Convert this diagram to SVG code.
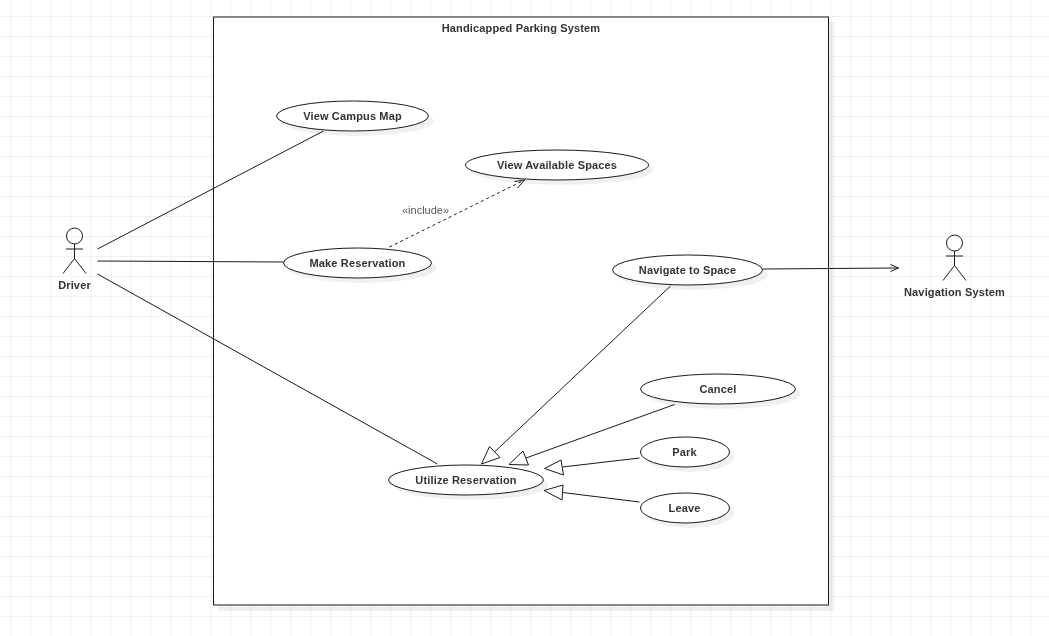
<svg xmlns="http://www.w3.org/2000/svg" width="1049" height="636" viewBox="0 0 1049 636" style="will-change:transform">
<style>
text{font-family:"Liberation Sans",Arial,sans-serif;font-size:11px;font-weight:bold;fill:#333;text-anchor:middle;letter-spacing:.15px}
.uc{fill:#fff;stroke:#1a1a1a;stroke-width:1}
.sh{fill:#000;opacity:.06}
.ln{fill:none;stroke:#1a1a1a;stroke-width:1}
.tri{fill:#fff;stroke:#1a1a1a;stroke-width:1}
.act{fill:none;stroke:#1a1a1a;stroke-width:1}
</style>
<g id="diagram" transform="translate(-.5 0)">
<g id="grid" fill="none" stroke="#f0f0f0" stroke-width="1">
<path d="M11.5 0V636M31.5 0V636M51.5 0V636M71.5 0V636M91.5 0V636M111.5 0V636M131.5 0V636M151.5 0V636M171.5 0V636M191.5 0V636M211.5 0V636M231.5 0V636M251.5 0V636M271.5 0V636M291.5 0V636M311.5 0V636M331.5 0V636M351.5 0V636M371.5 0V636M391.5 0V636M411.5 0V636M431.5 0V636M451.5 0V636M471.5 0V636M491.5 0V636M511.5 0V636M531.5 0V636M551.5 0V636M571.5 0V636M591.5 0V636M611.5 0V636M631.5 0V636M651.5 0V636M671.5 0V636M691.5 0V636M711.5 0V636M731.5 0V636M751.5 0V636M771.5 0V636M791.5 0V636M811.5 0V636M831.5 0V636M851.5 0V636M871.5 0V636M891.5 0V636M911.5 0V636M931.5 0V636M951.5 0V636M971.5 0V636M991.5 0V636M1011.5 0V636M1031.5 0V636"/>
<path d="M0 16.5H1050M0 36.5H1050M0 56.5H1050M0 76.5H1050M0 96.5H1050M0 116.5H1050M0 136.5H1050M0 156.5H1050M0 176.5H1050M0 196.5H1050M0 216.5H1050M0 236.5H1050M0 256.5H1050M0 276.5H1050M0 296.5H1050M0 316.5H1050M0 336.5H1050M0 356.5H1050M0 376.5H1050M0 396.5H1050M0 416.5H1050M0 436.5H1050M0 456.5H1050M0 476.5H1050M0 496.5H1050M0 516.5H1050M0 536.5H1050M0 556.5H1050M0 576.5H1050M0 596.5H1050M0 616.5H1050"/>
</g>
<g id="system">
<rect class="sh" x="219" y="22" width="616" height="589"/>
<rect x="214" y="17" width="615" height="588" fill="#fff" stroke="#1a1a1a" stroke-width="1"/>
<text x="521.5" y="32">Handicapped Parking System</text>
</g>
<g id="uc-view-campus-map">
<ellipse class="sh" cx="358" cy="121" rx="76" ry="15"/>
<ellipse class="uc" cx="353" cy="116" rx="76" ry="15"/>
<text x="353" y="120">View Campus Map</text>
</g>
<g id="uc-view-available-spaces">
<ellipse class="sh" cx="562.5" cy="170" rx="91.5" ry="15"/>
<ellipse class="uc" cx="557.5" cy="165" rx="91.5" ry="15"/>
<text x="557.5" y="169">View Available Spaces</text>
</g>
<g id="uc-make-reservation">
<ellipse class="sh" cx="363" cy="268" rx="74" ry="15"/>
<ellipse class="uc" cx="358" cy="263" rx="74" ry="15"/>
<text x="358" y="267">Make Reservation</text>
</g>
<g id="uc-navigate-to-space">
<ellipse class="sh" cx="693" cy="275" rx="75" ry="15"/>
<ellipse class="uc" cx="688" cy="270" rx="75" ry="15"/>
<text x="688" y="274">Navigate to Space</text>
</g>
<g id="uc-cancel">
<ellipse class="sh" cx="723.5" cy="394" rx="77.5" ry="15"/>
<ellipse class="uc" cx="718.5" cy="389" rx="77.5" ry="15"/>
<text x="718.5" y="393">Cancel</text>
</g>
<g id="uc-park">
<ellipse class="sh" cx="690.5" cy="457" rx="44.5" ry="15"/>
<ellipse class="uc" cx="685.5" cy="452" rx="44.5" ry="15"/>
<text x="685" y="456">Park</text>
</g>
<g id="uc-leave">
<ellipse class="sh" cx="690.5" cy="513" rx="44.5" ry="15"/>
<ellipse class="uc" cx="685.5" cy="508" rx="44.5" ry="15"/>
<text x="685" y="512">Leave</text>
</g>
<g id="uc-utilize-reservation">
<ellipse class="sh" cx="471.5" cy="485" rx="77.5" ry="15"/>
<ellipse class="uc" cx="466.5" cy="480" rx="77.5" ry="15"/>
<text x="466.5" y="484">Utilize Reservation</text>
</g>
<g id="actor-driver">
<circle class="act" cx="75" cy="236" r="8"/>
<path class="act" d="M75 244V258.5M66.5 249H83.5M63.5 273.5L75 258.5L86.5 273.5"/>
<text x="75" y="289">Driver</text>
</g>
<g id="actor-navigation-system">
<circle class="act" cx="955" cy="243" r="8"/>
<path class="act" d="M955 251V265.5M946.5 256H963.5M943.5 280.5L955 265.5L966.5 280.5"/>
<text x="955" y="296">Navigation System</text>
</g>
<g id="connectors">
<path class="ln" d="M98 249L324 131"/>
<path class="ln" d="M98 261L284 262"/>
<path class="ln" d="M98 274L438 464"/>
<path class="ln" stroke-dasharray="3 3" d="M390 247L525 180"/>
<path class="ln" d="M515 181.5L525 180L518 188"/>
<text x="426" y="214" style="font-weight:normal;fill:#595959;letter-spacing:0">«include»</text>
<path class="ln" d="M763 269L899 268"/>
<path class="ln" d="M891 264.5L899 268L891 271.5"/>
<path class="ln" d="M671 286L495 452"/>
<polygon class="tri" points="482,464 490,446.5 500.5,457.5"/>
<path class="ln" d="M675 404.5L526.5 458"/>
<polygon class="tri" points="509.5,464.5 523.5,451 529,465"/>
<path class="ln" d="M640 458L563 467"/>
<polygon class="tri" points="545,468.5 561.5,460 564,475"/>
<path class="ln" d="M640 502L563 492.5"/>
<polygon class="tri" points="544.5,490.5 563.5,485 562.5,500"/>
</g>
</g>
</svg>
